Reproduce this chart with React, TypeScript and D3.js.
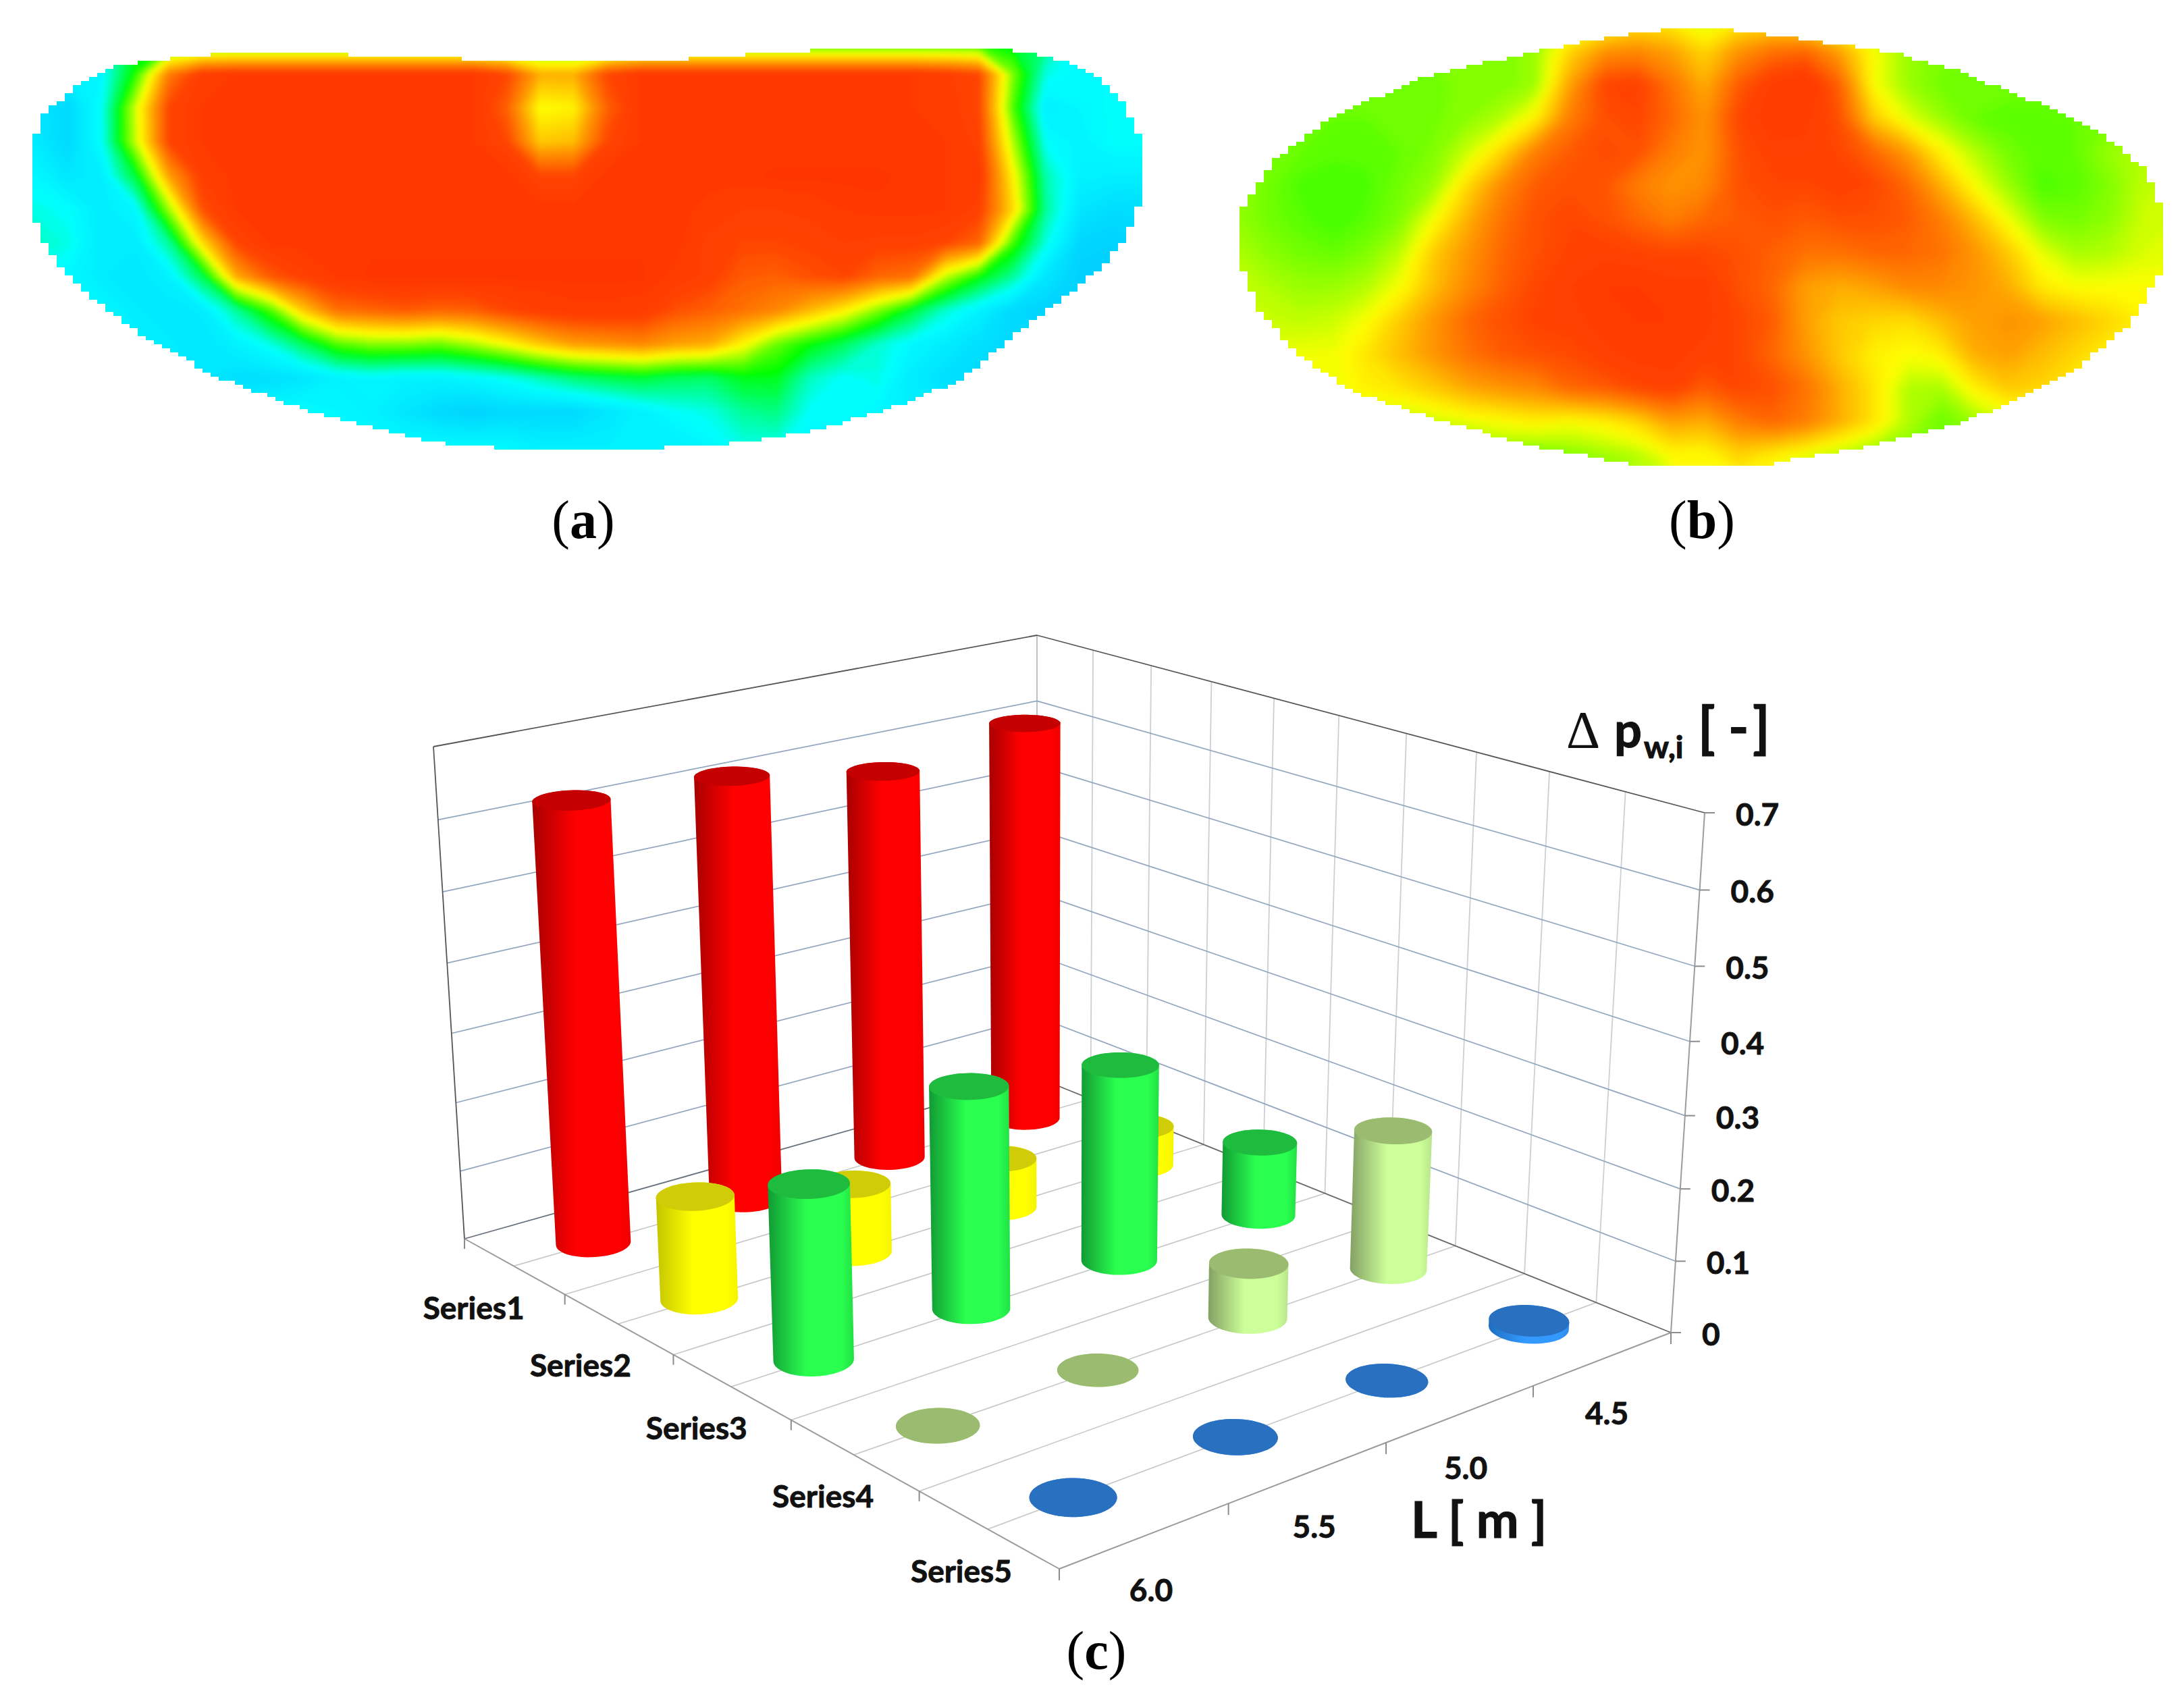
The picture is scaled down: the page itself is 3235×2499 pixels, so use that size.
import React from 'react';
import * as d3 from 'd3';

const WIDTH = 3235;
const HEIGHT = 2499;

// Panel (a): pressure field, 0 = deep blue, 100 = red
const fieldA = [
  [15,15,20,36,36,36,36,36,36,36,36,36,36,36,36,36,36,36,36,36,36,36,36,36,36,36,36,36,36,36,30,20,20,20],
  [15,15,18,42,80,94,96,96,96,96,96,96,96,96,90,72,72,90,96,96,96,96,96,96,96,96,96,94,90,50,22,18,20,20],
  [12,8,20,56,90,96,96,96,96,96,96,96,96,96,85,60,62,85,96,96,96,96,96,96,96,96,96,95,90,46,15,18,20,20],
  [14,8,20,55,90,96,96,96,96,96,96,96,96,96,90,68,70,90,96,96,96,96,96,96,96,96,96,96,92,54,20,17,20,20],
  [18,12,15,36,74,93,97,97,97,97,97,97,97,97,97,90,90,97,97,97,97,97,98,98,98,98,97,96,95,62,26,16,15,15],
  [22,20,14,18,52,88,96,97,97,97,97,97,97,97,97,97,97,97,97,97,95,93,93,94,96,97,97,96,92,66,28,12,9,10],
  [25,22,14,14,28,65,90,96,97,97,97,97,97,97,97,97,97,97,97,97,92,90,90,91,93,92,92,90,84,45,22,7,6,8],
  [20,18,14,12,16,34,72,86,92,96,98,98,98,98,98,98,98,98,98,95,92,86,85,88,90,84,82,55,40,28,12,5,5,8],
  [18,20,18,14,12,14,28,45,68,82,84,86,84,85,90,93,95,95,94,88,85,82,78,70,62,50,36,24,16,8,6,8,12,15],
  [18,18,18,16,14,12,16,22,33,46,50,50,48,53,60,68,74,76,78,74,72,61,48,40,33,24,18,14,10,8,8,12,14,15],
  [16,16,16,15,15,12,10,10,12,16,18,16,16,18,21,26,31,34,36,33,32,38,38,25,20,22,14,10,8,10,12,14,15,15],
  [16,16,16,16,16,16,16,18,20,18,16,12,8,6,8,8,8,12,16,20,22,28,30,20,20,18,14,14,14,14,15,15,15,15],
  [18,18,18,18,18,18,18,18,18,18,18,18,18,18,18,15,15,15,15,15,18,22,22,18,18,18,18,18,18,18,18,18,18,18],
];

// Panel (b), same scale
const fieldB = [
  [50,50,50,50,50,50,50,50,50,50,50,54,60,60,54,60,60,56,50,50,50,50,50,50,50,50,50,50,50],
  [50,50,50,50,50,50,50,50,50,52,66,76,78,74,66,76,82,84,74,60,52,50,50,50,50,50,50,50,50],
  [50,50,50,50,50,49,49,50,50,52,74,90,92,82,72,86,94,97,85,60,52,49,49,49,49,49,50,50,50],
  [52,50,49,48,48,48,49,51,54,62,80,88,90,84,76,90,95,94,88,68,58,52,48,47,47,48,49,50,50],
  [52,50,48,47,47,48,50,56,66,80,86,89,88,80,76,88,92,92,90,84,75,62,54,49,47,48,52,54,54],
  [52,49,46,45,46,49,52,66,78,86,88,87,80,76,78,88,90,90,92,90,84,72,60,52,46,47,50,55,56],
  [52,49,47,45,47,50,60,72,82,88,90,88,84,80,84,86,88,86,88,88,86,80,70,59,50,49,51,56,57],
  [54,51,49,48,50,55,68,76,84,88,91,92,91,90,90,88,85,82,82,84,84,82,76,68,58,53,54,57,58],
  [56,54,52,52,54,60,70,78,85,90,93,96,96,94,94,88,84,74,72,74,78,78,76,72,63,60,60,60,60],
  [56,56,55,56,60,68,76,84,88,91,92,94,96,96,94,90,86,74,68,66,65,70,74,76,74,70,66,62,60],
  [58,58,59,59,64,70,76,82,86,88,89,92,94,94,92,90,84,76,68,62,60,62,72,74,70,66,62,60,58],
  [58,58,58,59,62,64,68,73,76,78,84,86,90,92,86,90,88,82,72,64,54,53,62,68,66,62,60,58,58],
  [54,54,54,54,54,54,56,58,60,62,60,62,66,74,72,80,84,80,72,64,54,48,52,56,56,56,56,56,56],
  [50,50,50,50,50,50,50,50,50,48,50,52,54,60,60,66,62,58,54,50,50,50,50,50,50,50,50,50,50],
];

// Panel outlines, in the grid units of their field
const outlineA = [
  [3.66,1.14],[5.3,0.94],[7.7,0.8],[9.1,0.9],[12.3,1.0],[15.4,1.16],[17.7,1.16],[20.3,1.02],[22.5,0.86],[24.7,0.72],
  [28.7,0.72],[29.9,0.84],[30.44,0.96],[31.24,1.16],[32.04,1.64],[32.84,2.44],[33.3,3.36],[33.44,3.96],[33.44,4.76],
  [33.26,5.3],[32.84,6.36],[32.16,7.16],[31.16,8.04],[29.96,8.9],[28,10.54],
  [25.8,11.44],[23.6,12.06],[21.4,12.42],[17.8,12.64],[15.3,12.64],[12.4,12.42],[10.5,11.98],[8.3,11.36],[6.1,10.54],
  [3.9,9.38],[1.9,7.88],[0.9,6.7],[0.4,5.46],[0.4,3.76],[0.8,2.7],[1.7,1.88],[2.8,1.3],
];
const outlineB = [
  [14.46,0.8],[16.1,0.98],[18.3,1.29],[20.1,1.56],[22,2.1],[23.8,2.81],[26.2,3.88],[27.6,5.04],[28.2,6.65],[28,8.08],
  [27.1,9.6],[25.6,10.85],[23.8,11.83],[21.8,12.63],[18.7,13.35],[16.1,13.8],[12.6,13.8],[9.15,13.17],[6.4,12.37],
  [4.2,11.65],[2.4,10.49],[1.28,9.15],[0.64,7.45],[0.82,6.2],[1.83,4.69],[3.66,3.35],[6.22,2.28],[9.5,1.52],[10.07,1.43],
  [10.8,1.25],[12.6,0.94],
];

// Panel (c)
const series = ['Series1', 'Series2', 'Series3', 'Series4', 'Series5'];
const lengths = ['6.0', '5.5', '5.0', '4.5'];
const valueTicks = [0, 0.1, 0.2, 0.3, 0.4, 0.5, 0.6, 0.7];
const series1 = [0.631, 0.62, 0.583, 0.611];
const series2 = [0.146, 0.099, 0.073, 0.06];
const series3 = [0.24, 0.311, 0.282, 0.109];
const series4 = [0, 0, 0.077, 0.2];
const series5 = [0, 0, 0, 0.01];
const seriesValues = [series1, series2, series3, series4, series5];

const fillColors = [
  { left: '#a80000', mid: '#ff0000', right: '#f00000', top: '#c40000' },
  { left: '#c4c400', mid: '#ffff00', right: '#f4f400', top: '#d0cc08' },
  { left: '#129a34', mid: '#2aff50', right: '#22e044', top: '#1fbb3e' },
  { left: '#84a064', mid: '#ccff99', right: '#b8e48c', top: '#9bbb70' },
  { left: '#1f6fc0', mid: '#3399ff', right: '#2f8ce8', top: '#2a70c0' },
];

const heatColor = d3.scaleLinear<string>()
  .domain([0, 20, 40, 60, 75, 90, 100])
  .range(['#00c0ff', '#00ffff', '#00ff00', '#ffff00', '#ff9900', '#ff4400', '#ff3000']);

const thresholds = d3.range(0, 100, 1.5);

// blocky mask like the source raster, one run per row
const blockPath = (polygon: [number, number][], bx: number, by: number) => {
  const xs = polygon.map(p => p[0]);
  const ys = polygon.map(p => p[1]);
  const x0 = Math.floor(d3.min(xs)! / bx) * bx;
  const x1 = Math.ceil(d3.max(xs)! / bx) * bx;
  const y0 = Math.floor(d3.min(ys)! / by) * by;
  const y1 = Math.ceil(d3.max(ys)! / by) * by;
  let d = '';
  for (let y = y0; y < y1; y += by) {
    let start = null;
    for (let x = x0; x <= x1; x += bx) {
      const inside = d3.polygonContains(polygon, [x + bx / 2, y + by / 2]);
      if (inside && start === null) start = x;
      if (!inside && start !== null) {
        d += `M${start} ${y}H${x}V${y + by}H${start}Z`;
        start = null;
      }
    }
  }
  return d;
};

const Heatmap = ({ id, field, outline, left, top, cell, blur }) => {
  const rows = field.length;
  const cols = field[0].length;
  const x = d3.scaleLinear().domain([0, cols]).range([left, left + cols * cell]);
  const y = d3.scaleLinear().domain([0, rows]).range([top, top + rows * cell]);
  const contours = d3.contours().size([cols, rows]).thresholds(thresholds)(field.flat());
  const path = d3.geoPath(d3.geoTransform({
    point(px, py) { this.stream.point(x(px), y(py)); },
  }));
  const polygon = outline.map(([c, r]) => [x(c), y(r)]);
  return (
    <g>
      <defs>
        <clipPath id={id}><path d={blockPath(polygon, 12, 6)} /></clipPath>
        <filter id={`${id}-soft`} x="-5%" y="-5%" width="110%" height="110%">
          <feGaussianBlur stdDeviation={blur} />
        </filter>
      </defs>
      <g clipPath={`url(#${id})`}>
        <g filter={`url(#${id}-soft)`}>
          {contours.map(c => (
            <path key={c.value} d={path(c)} fill={heatColor(c.value + 0.75)} />
          ))}
        </g>
      </g>
    </g>
  );
};

// unit square to quad, standard projective mapping
const quadMap = (p00, p10, p11, p01) => {
  const dx1 = p10[0] - p11[0];
  const dx2 = p01[0] - p11[0];
  const sx = p00[0] - p10[0] + p11[0] - p01[0];
  const dy1 = p10[1] - p11[1];
  const dy2 = p01[1] - p11[1];
  const sy = p00[1] - p10[1] + p11[1] - p01[1];
  const det = dx1 * dy2 - dx2 * dy1;
  const g = (sx * dy2 - dx2 * sy) / det;
  const h = (dx1 * sy - sx * dy1) / det;
  const a = p10[0] - p00[0] + g * p10[0];
  const b = p01[0] - p00[0] + h * p01[0];
  const d = p10[1] - p00[1] + g * p10[1];
  const e = p01[1] - p00[1] + h * p01[1];
  return (u: number, v: number) => {
    const q = g * u + h * v + 1;
    return [(a * u + b * v + p00[0]) / q, (d * u + e * v + p00[1]) / q];
  };
};

// box corners: left, front, right, back, on the floor and at the 0.7 level
const floorMap = quadMap([688, 1835], [1569, 2324], [2475, 1974], [1536, 1596]);
const ceilMap = quadMap([642, 1106], [1566, 1450], [2525, 1204], [1536, 941]);
const heightScale = d3.scaleLinear().domain([0, 0.7]).range([0, 1]);
const heightBend = 0.955;

const project = (u: number, v: number, value: number) => {
  const w = heightScale(value);
  const t = (w * heightBend) / (1 + w * (heightBend - 1));
  const a = floorMap(u, v);
  const b = ceilMap(u, v);
  return [a[0] + (b[0] - a[0]) * t, a[1] + (b[1] - a[1]) * t];
};

const seriesScale = d3.scaleBand().domain(series).range([0, 1]);
const lengthScale = d3.scaleBand().domain(lengths).range([0, 1]);
const closedLine = d3.line().curve(d3.curveLinearClosed);
const RADIUS_U = 0.04;
const RADIUS_V = 0.05;
const angles = d3.range(0, Math.PI * 2, Math.PI / 30);

const Column = ({ s, l, value, colorIndex }) => {
  const cu = seriesScale(s)! + seriesScale.bandwidth() / 2;
  const cv = lengthScale(l)! + lengthScale.bandwidth() / 2;
  const ring = (val: number) => angles.map(a =>
    project(cu + RADIUS_U * Math.cos(a), cv + RADIUS_V * Math.sin(a), val));
  const base = ring(0);
  const cap = ring(value);
  const hull = d3.polygonHull([...base, ...cap]);
  return (
    <g>
      <path d={closedLine(hull)} fill={`url(#column-${colorIndex})`} />
      <path d={closedLine(cap)} fill={fillColors[colorIndex].top} />
    </g>
  );
};

const seg = (a: number[], b: number[]) => ({ x1: a[0], y1: a[1], x2: b[0], y2: b[1] });

const Chart3D = () => {
  const uLines = d3.range(0, 11).map(i => i / 10);
  const uTicks = d3.range(0, 6).map(i => i / 5);
  const vTicks = d3.range(0, 5).map(i => i / 4);
  const labelFont = { fontFamily: 'Lato', fontWeight: 700, fontSize: 46, fill: '#111', stroke: '#111', strokeWidth: 0.9 };
  const titleFont = { fontFamily: 'Lato', fontWeight: 700, fill: '#111', stroke: '#111', strokeWidth: 1.2 };
  return (
    <g>
      <defs>
        {fillColors.map((c, i) => (
          <linearGradient key={i} id={`column-${i}`} x1="0" x2="1" y1="0" y2="0">
            <stop offset="0" stopColor={c.left} />
            <stop offset="0.45" stopColor={c.mid} />
            <stop offset="0.85" stopColor={c.mid} />
            <stop offset="1" stopColor={c.right} />
          </linearGradient>
        ))}
      </defs>

      {/* floor lines along the length axis */}
      {uLines.slice(1, 10).map(u => (
        <line key={u} {...seg(project(u, 0, 0), project(u, 1, 0))} stroke="#c6c6c6" strokeWidth={1.6} />
      ))}

      {/* wall grid */}
      {uLines.slice(1, 10).map(u => (
        <line key={u} {...seg(project(u, 1, 0), project(u, 1, 0.7))} stroke="#ccd0d6" strokeWidth={1.8} />
      ))}
      <line {...seg(project(0, 1, 0), project(0, 1, 0.7))} stroke="#bcc2ca" strokeWidth={2} />
      {valueTicks.slice(1, 7).map(t => (
        <g key={t}>
          <line {...seg(project(0, 0, t), project(0, 1, t))} stroke="#93a6bf" strokeWidth={1.7} />
          <line {...seg(project(0, 1, t), project(1, 1, t))} stroke="#93a6bf" strokeWidth={1.7} />
        </g>
      ))}

      {/* box edges */}
      <line {...seg(project(0, 0, 0.7), project(0, 1, 0.7))} stroke="#555" strokeWidth={1.8} />
      <line {...seg(project(0, 1, 0.7), project(1, 1, 0.7))} stroke="#555" strokeWidth={1.8} />
      <line {...seg(project(0, 0, 0), project(0, 0, 0.7))} stroke="#555" strokeWidth={1.8} />
      <line {...seg(project(0, 0, 0), project(0, 1, 0))} stroke="#66707c" strokeWidth={1.8} />
      <line {...seg(project(0, 1, 0), project(1, 1, 0))} stroke="#666" strokeWidth={1.8} />
      <line {...seg(project(1, 1, 0), project(1, 1, 0.7))} stroke="#9c9c9c" strokeWidth={2} />

      {/* columns, back to front */}
      {series.map((s, si) => [...lengths].reverse().map(l => (
        <Column key={s + l} s={s} l={l} colorIndex={si} value={seriesValues[si][lengths.indexOf(l)]} />
      )))}

      {/* axes */}
      <line {...seg(project(0, 0, 0), project(1, 0, 0))} stroke="#9a9a9a" strokeWidth={2} />
      <line {...seg(project(1, 0, 0), project(1, 1, 0))} stroke="#9a9a9a" strokeWidth={2} />
      {uTicks.map(u => {
        const p = project(u, 0, 0);
        return <line key={u} x1={p[0]} y1={p[1]} x2={p[0]} y2={p[1] + 15} stroke="#8c8c8c" strokeWidth={2} />;
      })}
      {vTicks.map(v => {
        const p = project(1, v, 0);
        return <line key={v} x1={p[0]} y1={p[1]} x2={p[0]} y2={p[1] + 17} stroke="#8c8c8c" strokeWidth={2} />;
      })}
      {valueTicks.map(t => {
        const p = project(1, 1, t);
        return <line key={t} x1={p[0]} y1={p[1]} x2={p[0] + 15} y2={p[1]} stroke="#8c8c8c" strokeWidth={2} />;
      })}

      {series.map((s, i) => {
        const p = project(uTicks[i + 1], 0, 0);
        return <text key={s} x={p[0] - 60 - 2.5 * i} y={p[1] + 36 - 4 * i} textAnchor="end" {...labelFont}>{s}</text>;
      })}
      {lengths.map((l, i) => {
        const p = project(1, vTicks[i], 0);
        return <text key={l} x={p[0] + 136 - 9 * i} y={p[1] + 48 + 3 * i} textAnchor="middle" {...labelFont}>{l}</text>;
      })}
      {valueTicks.map(t => {
        const p = project(1, 1, t);
        return <text key={t} x={p[0] + 46} y={p[1] + 19} {...labelFont}>{t}</text>;
      })}

      <text y={1107} fontSize={72} {...titleFont}>
        <tspan x={2320} fontFamily="Liberation Serif" fontWeight={400} fontSize={78} strokeWidth={0}>Δ</tspan>
        <tspan x={2391}>p</tspan>
        <tspan x={2435} dy={16} fontSize={46}>w,i</tspan>
        <tspan x={2515} dy={-16} fontSize={82}>[</tspan>
        <tspan x={2560} fontSize={82}>-</tspan>
        <tspan x={2596} fontSize={82}>]</tspan>
      </text>
      <text x={2090} y={2278} fontSize={75} {...titleFont}>L [ m ]</text>
    </g>
  );
};

const PanelLabel = ({ x, y, letter }) => (
  <text x={x} y={y} textAnchor="middle" fontFamily="Liberation Serif" fontSize={80} fill="#000">
    (<tspan fontWeight={700}>{letter}</tspan>)
  </text>
);

const App = () => (
  <svg width={WIDTH} height={HEIGHT} style={{ position: 'absolute', left: 0, top: 0, background: '#fff' }}>
    <Heatmap id="panel-a" field={fieldA} outline={outlineA} left={25} top={35} cell={50} blur={3.5} />
    <Heatmap id="panel-b" field={fieldB} outline={outlineB} left={1800} top={0} cell={50} blur={8} />
    <PanelLabel x={864} y={797} letter="a" />
    <PanelLabel x={2521} y={797} letter="b" />
    <PanelLabel x={1624} y={2472} letter="c" />
    <Chart3D />
  </svg>
);

export default App;
